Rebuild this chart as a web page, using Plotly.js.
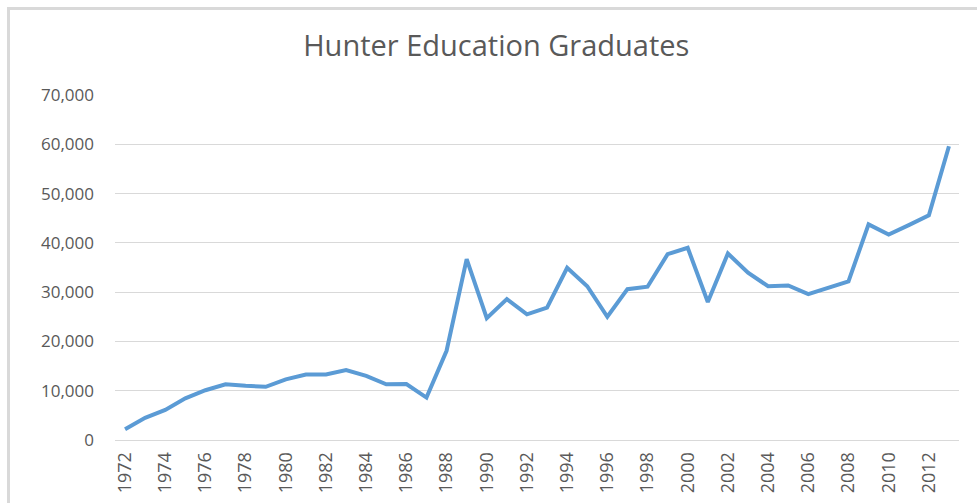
<!DOCTYPE html>
<html>
<head>
<meta charset="utf-8">
<script src="https://cdn.plot.ly/plotly-3.0.1.min.js"></script>
<style>
  html, body { margin: 0; padding: 0; background: #fff; }
  #wrap { position: relative; width: 977px; height: 503px; overflow: hidden; }
  #chart { position: absolute; left: 0; top: 0; width: 977px; height: 503px; }
  #frame { position: absolute; left: 7px; top: 7px; width: 980px; height: 510px;
           border-top: 3px solid #d9d9d9; border-left: 3px solid #d9d9d9; pointer-events: none; }
</style>
</head>
<body>
<div id="wrap">
  <div id="chart"></div>
  <div id="frame"></div>
</div>
<script>
const years = [1972,1973,1974,1975,1976,1977,1978,1979,1980,1981,1982,1983,1984,1985,1986,1987,1988,1989,1990,1991,1992,1993,1994,1995,1996,1997,1998,1999,2000,2001,2002,2003,2004,2005,2006,2007,2008,2009,2010,2011,2012,2013];
const graduates = [2200,4500,6100,8450,10100,11300,11000,10800,12300,13300,13300,14200,13000,11300,11350,8600,18100,36700,24700,28600,25500,26850,34950,31200,25000,30600,31100,37700,39000,28000,37850,33950,31200,31350,29600,30900,32200,43750,41700,43600,45600,59600];
const tickYears = [1972,1974,1976,1978,1980,1982,1984,1986,1988,1990,1992,1994,1996,1998,2000,2002,2004,2006,2008,2010,2012];
const yTicks = [0,10000,20000,30000,40000,50000,60000,70000];
const titleText = "Hunter Education Graduates";

const trace = {
  x: years.map(String),
  y: graduates,
  type: 'scatter',
  mode: 'lines',
  line: { color: '#5B9BD5', width: 4, shape: 'linear' },
  hoverinfo: 'x+y'
};

const layout = {
  width: 977, height: 503,
  margin: { l: 115, r: 18, t: 95, b: 63 },
  paper_bgcolor: '#ffffff',
  plot_bgcolor: '#ffffff',
  showlegend: false,
  title: {
    text: titleText,
    x: 0.508, xanchor: 'center', xref: 'container',
    y: 0.908, yanchor: 'middle', yref: 'container',
    font: { family: 'Open Sans, sans-serif', size: 29, color: '#595959' }
  },
  xaxis: {
    type: 'category',
    range: [-0.5, years.length - 0.5],
    tickmode: 'array',
    tickvals: tickYears.map(String),
    ticktext: tickYears.map(String),
    tickangle: -90,
    tickfont: { family: 'Open Sans, sans-serif', size: 18, color: '#595959' },
    ticklabelstandoff: 4,
    showgrid: false,
    showline: true,
    linecolor: '#d9d9d9',
    linewidth: 1,
    ticks: '',
    zeroline: false,
    fixedrange: true
  },
  yaxis: {
    range: [0, 70000],
    tickmode: 'array',
    tickvals: yTicks,
    ticktext: yTicks.map(v => v.toLocaleString('en-US')),
    tickfont: { family: 'Open Sans, sans-serif', size: 17, color: '#595959' },
    showgrid: true,
    gridcolor: '#d9d9d9',
    gridwidth: 1,
    zeroline: false,
    showline: false,
    ticks: '',
    ticklabelstandoff: 20,
    fixedrange: true
  }
};

Plotly.newPlot('chart', [trace], layout, { displayModeBar: false, staticPlot: true });
</script>
</body>
</html>
